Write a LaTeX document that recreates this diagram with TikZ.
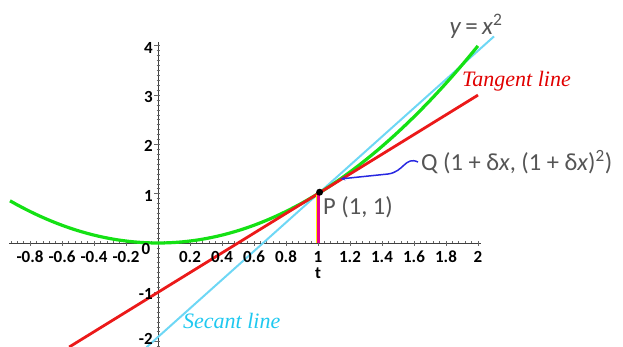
\documentclass[tikz,border=0pt]{standalone}
\usepackage{fontspec}
\setmainfont{Carlito}
\newfontfamily\serifit{Liberation Serif}
\usetikzlibrary{arrows.meta}
\definecolor{cgreen}{RGB}{20,225,20}
\definecolor{cred}{RGB}{235,25,25}
\definecolor{ccyan}{RGB}{110,215,245}
\definecolor{ctext}{RGB}{85,85,85}
\definecolor{cblue}{RGB}{40,40,225}
\definecolor{clabcyan}{RGB}{30,200,240}
\definecolor{clabred}{RGB}{225,0,0}
\begin{document}
\begin{tikzpicture}[x=1pt,y=-1pt,
  ticklab/.style={font=\fontsize{17}{17}\selectfont\bfseries, inner sep=0pt, text=black},
  annot/.style={font=\fontsize{24.5}{24.5}\selectfont, text=ctext, inner sep=0pt},
  curvelab/.style={font=\serifit\itshape\fontsize{22}{22}\selectfont, inner sep=0pt, anchor=west},
  axisline/.style={line width=1pt, black!75},
  minortick/.style={line width=0.6pt, black!60}
]
\useasboundingbox (0,0) rectangle (623,347);
\begin{scope}[shift={(158,243)}, x=160pt, y=49.3pt]
  % axes
  \draw[axisline] (-0.93,0) -- (2.02,0);
  \draw[axisline] (0,-2.15) -- (0,4.08);
  % minor ticks
  \foreach \i in {-23,...,50} \draw[minortick] (\i*0.04,0) -- ++(0,2pt);
  \foreach \i in {-21,...,40} \draw[minortick] (0,\i*0.1) ++(-1.5pt,0) -- ++(3pt,0);
  % major ticks
  \foreach \i in {-4,...,10} \draw[minortick] (\i*0.2,0) -- ++(0,-3pt);
  \foreach \i in {-2,...,4} \draw[minortick] (0,\i) -- ++(-4pt,0);
  % curves
  \draw[ccyan, line width=2pt] (-0.072,-2.116) -- (2.1,4.19);
  \draw[cgreen, line width=3.2pt] plot[domain=-0.925:2.0, samples=80] (\x,{\x*\x});
  \draw[cred, line width=2.8pt] (-0.555,-2.11) -- (2.0,3.0);
  % vertical marker at x=1
  \draw[magenta, line width=3.5pt] ([xshift=0.3pt]1,0) -- ([xshift=0.3pt]1,0.97);
  \draw[yellow, line width=0.8pt] ([xshift=-1.8pt]1,0) -- ([xshift=-1.8pt]1,0.97);
  \node[circle, fill=black, inner sep=0pt, minimum size=7pt] (P) at (1.01,1.03) {};
  \coordinate (Q) at (1.14,1.2996);
  % tick labels
  \foreach \v in {-0.8,-0.6,-0.4,-0.2,0.2,0.4,0.6,0.8,1,1.2,1.4,1.6,1.8,2}
    \node[ticklab, anchor=north] (xl\v) at (\v,-0.16) {\v};
  \foreach \v in {4,3,2,1,-1}
    \node[ticklab, anchor=east] (yl\v) at ([xshift=-5pt,yshift=-2pt]0,\v) {\v};
  \node[ticklab, anchor=east] (yl-2) at ([xshift=-5pt,yshift=3pt]0,-2) {-2};
\end{scope}
\node[ticklab] (zero) at (146,249) {0};
\node[ticklab] (tlab) at (318,273) {t};
% annotations
\node[annot, anchor=west] (Plab) at (323,207) {P (1, 1)};
\node[annot, anchor=west] (Qlab) at (421,162) {Q (1 + δ\textit{x}, (1 + δ\textit{x})\textsuperscript{2})};
\node[annot, font=\fontsize{25}{25}\selectfont] (ylab) at (476,26) {\textit{y}\,=\,\textit{x}\textsuperscript{2}};
\node[curvelab, text=clabred] (tan) at (462,81) {Tangent line};
\node[curvelab, text=clabcyan] (sec) at (183,321) {Secant line};
\draw[cblue, line width=1.5pt, -{Stealth[length=5pt,width=4pt]}]
  ([xshift=-3pt]Qlab.west) .. controls (405,156) and (404,172) .. (388,174) -- (Q);
\end{tikzpicture}
\end{document}
